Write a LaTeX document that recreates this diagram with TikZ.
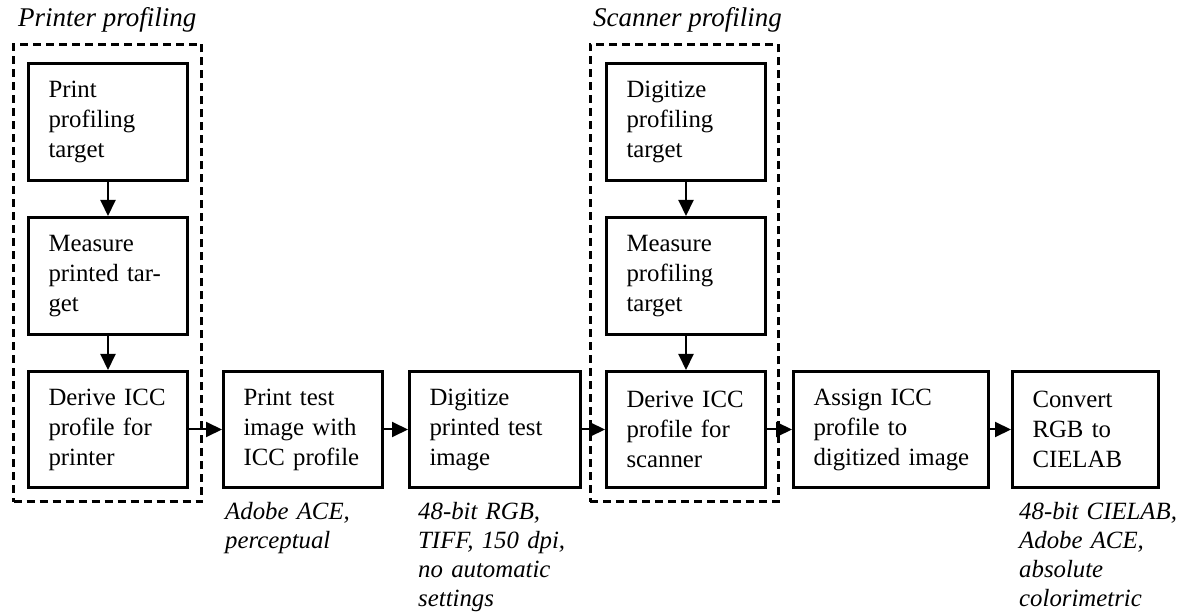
\documentclass[tikz,border=0pt]{standalone}
\usepackage{fontspec}
\setmainfont{Liberation Serif}
\usetikzlibrary{arrows.meta}
\tikzset{
  proc/.style={draw, line width=3pt, align=left, inner xsep=20pt, inner ysep=0pt,
    minimum height=116pt, anchor=north west,
    font=\fontsize{24.8}{30}\selectfont},
  grp/.style={draw, line width=3pt, dash pattern=on 8pt off 5pt, inner sep=0pt, anchor=north west},
  ttl/.style={anchor=base west, inner sep=0pt, font=\fontsize{27}{32}\selectfont\itshape},
  note/.style={anchor=base west, inner sep=0pt, align=left, text width=170pt,
    font=\fontsize{24.8}{29}\selectfont\itshape},
  arr/.style={line width=2pt, -{Triangle[length=16pt,width=15pt]}}
}
\begin{document}
\begin{tikzpicture}[x=1pt,y=1pt]
\useasboundingbox (0,0) rectangle (1187,-612);
% group boxes
\node[grp, minimum width=188pt, minimum height=457pt] (g1) at (12,-43) {};
\node[grp, minimum width=188pt, minimum height=457pt] (g2) at (588.5,-43) {};
\node[ttl] (t1) at (18,-27) {Printer profiling};
\node[ttl] (t2) at (593,-27) {Scanner profiling};
% printer column
\node[proc, text width=119pt, minimum height=117pt] (p1) at (27,-62) {Print\\profiling\\target};
\node[proc, text width=119pt, minimum height=117pt] (p2) at (27,-216) {Measure\\printed tar-\\get};
\node[proc, text width=119pt] (p3) at (27,-370) {Derive ICC\\profile for\\printer};
% middle
\node[proc, text width=119pt] (p4) at (222,-370) {Print test\\image with\\ICC profile};
\node[proc, text width=131pt] (p5) at (408,-370) {Digitize\\printed test\\image};
% scanner column
\node[proc, text width=119pt, minimum height=117pt] (s1) at (605,-62) {Digitize\\profiling\\target};
\node[proc, text width=119pt, minimum height=117pt] (s2) at (605,-216) {Measure\\profiling\\target};
\node[proc, text width=119pt] (s3) at (605,-370) {Derive ICC\\profile for\\scanner};
% right
\node[proc, text width=155pt] (p6) at (792,-370) {Assign ICC\\profile to\\\mbox{digitized image}};
\node[proc, text width=106pt] (p7) at (1011,-370) {Convert\\RGB to\\CIELAB};
% notes
\node[note] (n1) at (225,-519) {Adobe ACE,\\perceptual};
\node[note] (n2) at (418,-519) {48-bit RGB,\\TIFF, 150 dpi,\\no automatic\\settings};
\node[note] (n3) at (1019,-519) {48-bit CIELAB,\\Adobe ACE,\\absolute\\colorimetric};
% arrows
\draw[arr] (p1) -- (p2);
\draw[arr] (p2) -- (p3);
\draw[arr] (s1) -- (s2);
\draw[arr] (s2) -- (s3);
\draw[arr] (p3) -- (p4);
\draw[arr] (p4) -- (p5);
\draw[arr] (p5) -- (s3);
\draw[arr] (s3) -- (p6);
\draw[arr] (p6) -- (p7);
\end{tikzpicture}
\end{document}
